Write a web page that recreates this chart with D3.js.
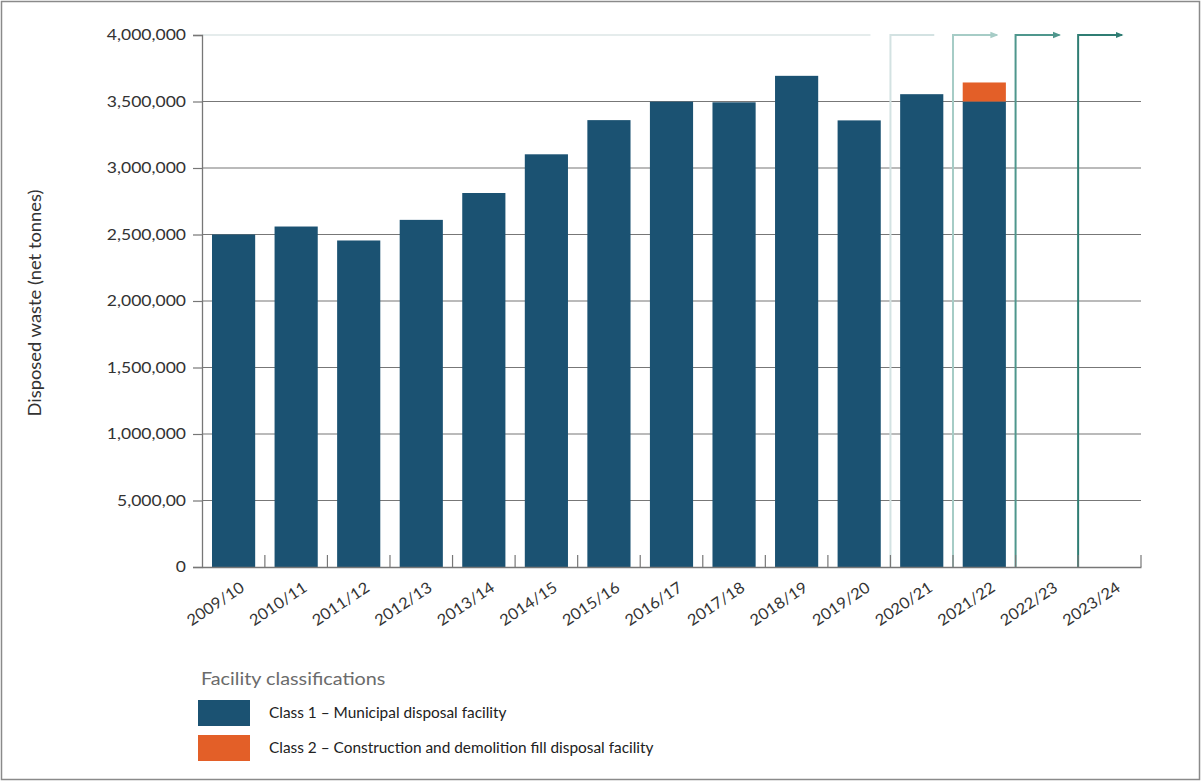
<!DOCTYPE html>
<html>
<head>
<meta charset="utf-8">
<script src="https://cdn.jsdelivr.net/npm/d3@7"></script>
<style>
  body { margin: 0; background: #fff; }
  svg { display: block; }
</style>
</head>
<body>
<div id="chart"></div>
<script>
// chart data
var years = ["2009/10", "2010/11", "2011/12", "2012/13", "2013/14", "2014/15", "2015/16",
  "2016/17", "2017/18", "2018/19", "2019/20", "2020/21", "2021/22", "2022/23", "2023/24"];
var class1 = [2500000, 2560000, 2455000, 2610000, 2812000, 3103000, 3360000,
  3499000, 3494000, 3693000, 3358000, 3555000, 3500000, null, null];
var class2 = [0, 0, 0, 0, 0, 0, 0, 0, 0, 0, 0, 0, 143000, null, null];
var yTicks = [0, 500000, 1000000, 1500000, 2000000, 2500000, 3000000, 3500000, 4000000];
var yTickLabels = ["0", "5,000,00", "1,000,000", "1,500,000", "2,000,000", "2,500,000",
  "3,000,000", "3,500,000", "4,000,000"];
var arrowYears = ["2020/21", "2021/22", "2022/23", "2023/24"];
var arrowColors = ["#d3e2e2", "#a6ccc6", "#4f978d", "#2f7d73"];
var legendLabels = ["Class 1 \u2013 Municipal disposal facility",
  "Class 2 \u2013 Construction and demolition fill disposal facility"];
var legendColors = ["#1b5272", "#e35f28"];

var w = 1201, h = 782;
var margin = {top: 35, left: 202, right: 60, bottom: 215};
var width = w - margin.left - margin.right;   // 939
var height = h - margin.top - margin.bottom;  // 532
var font = "Lato, 'Open Sans', sans-serif";

var svg = d3.select("#chart").append("svg")
  .attr("width", w)
  .attr("height", h);

// outer frame
svg.append("rect")
  .attr("x", 1.5).attr("y", 1.5)
  .attr("width", w - 3).attr("height", h - 4)
  .attr("fill", "none")
  .attr("stroke", "#8a8a8a")
  .attr("stroke-width", 1.5);

var g = svg.append("g")
  .attr("transform", "translate(" + margin.left + "," + margin.top + ")");

var x = d3.scaleBand()
  .domain(years)
  .range([0, width])
  .paddingInner(0.31)
  .paddingOuter(0.16);

var y = d3.scaleLinear()
  .domain([0, 4000000])
  .range([height, 0]);

var step = x.step();
var gap = step * x.paddingInner();
// left edge of each band's slot (boundary between categories)
function boundary(d) { return x(d) - gap / 2; }

// top line (faded)
g.append("line")
  .attr("x1", 0).attr("x2", boundary("2020/21") - 20)
  .attr("y1", y(4000000)).attr("y2", y(4000000))
  .attr("stroke", "#dde6e6")
  .attr("stroke-width", 1.5);

// gridlines + left axis
var yAxis = g.append("g")
  .call(d3.axisLeft(y).tickValues(yTicks).tickSize(9).tickFormat(function(d, i) { return yTickLabels[i]; }));
yAxis.select(".domain").attr("stroke", "#777").attr("stroke-width", 1.3);
yAxis.selectAll(".tick line").attr("stroke", "#777").attr("stroke-width", 1.2);
yAxis.selectAll(".tick text")
  .attr("x", 0)
  .attr("transform", "translate(-16,0) scale(1.17,1)")
  .attr("font-family", font)
  .attr("font-size", "15px")
  .attr("fill", "#333");

g.append("g")
  .selectAll("line")
  .data(yTicks.filter(function(d) { return d > 0 && d < 4000000; }))
  .enter().append("line")
    .attr("x1", 0).attr("x2", width)
    .attr("y1", function(d) { return y(d); })
    .attr("y2", function(d) { return y(d); })
    .attr("stroke", "#777")
    .attr("stroke-width", 1.2);

// arrows for later years
var defs = svg.append("defs");
arrowColors.forEach(function(c, i) {
  defs.append("marker")
    .attr("id", "arr" + i)
    .attr("viewBox", "0 0 10 10")
    .attr("refX", 8).attr("refY", 5)
    .attr("markerWidth", 4).attr("markerHeight", 4)
    .attr("orient", "auto")
    .append("path")
      .attr("d", "M0,1 L10,5 L0,9 Z")
      .attr("fill", c);
});
arrowYears.forEach(function(d, i) {
  var bx = boundary(d);
  g.append("path")
    .attr("d", "M" + bx + "," + height + " V" + y(4000000) + " H" + (bx + step * 0.7))
    .attr("fill", "none")
    .attr("stroke", arrowColors[i])
    .attr("stroke-width", 2)
    .attr("marker-end", i > 0 ? "url(#arr" + i + ")" : null);
});

// bars
var data = years.map(function(d, i) { return {year: d, c1: class1[i], c2: class2[i]}; })
  .filter(function(d) { return d.c1 != null; });

g.selectAll(".bar1")
  .data(data)
  .enter().append("rect")
    .attr("class", "bar1")
    .attr("x", function(d) { return x(d.year); })
    .attr("y", function(d) { return y(d.c1); })
    .attr("width", x.bandwidth())
    .attr("height", function(d) { return height - y(d.c1); })
    .attr("fill", legendColors[0]);

g.selectAll(".bar2")
  .data(data.filter(function(d) { return d.c2 > 0; }))
  .enter().append("rect")
    .attr("class", "bar2")
    .attr("x", function(d) { return x(d.year); })
    .attr("y", function(d) { return y(d.c1 + d.c2); })
    .attr("width", x.bandwidth())
    .attr("height", function(d) { return y(d.c1) - y(d.c1 + d.c2); })
    .attr("fill", legendColors[1]);

// x axis
var xAxis = g.append("g")
  .attr("transform", "translate(0," + height + ")")
  .call(d3.axisBottom(x).tickSize(0));
xAxis.select(".domain").attr("stroke", "#777").attr("stroke-width", 1.3);
xAxis.selectAll(".tick text")
  .attr("font-family", font)
  .attr("font-size", "15.5px")
  .attr("fill", "#333")
  .attr("text-anchor", "end")
  .attr("dy", 0)
  .attr("y", 0)
  .attr("transform", "translate(12,23) rotate(-34) scale(1.07,1)");

// inward ticks at category boundaries
g.append("g")
  .selectAll("line")
  .data(years.slice(1).concat(["end"]))
  .enter().append("line")
    .attr("x1", function(d) { return d === "end" ? width : boundary(d); })
    .attr("x2", function(d) { return d === "end" ? width : boundary(d); })
    .attr("y1", height).attr("y2", height - 12)
    .attr("stroke", "#777")
    .attr("stroke-width", 1.2);

// y axis title
svg.append("text")
  .attr("transform", "translate(41," + (margin.top + height / 2 + 2) + ") rotate(-90)")
  .attr("text-anchor", "middle")
  .attr("font-family", font)
  .attr("font-size", "18px")
  .attr("textLength", 227)
  .attr("lengthAdjust", "spacingAndGlyphs")
  .attr("fill", "#333")
  .text("Disposed waste (net tonnes)");

// legend
var legend = svg.append("g").attr("transform", "translate(198,0)");
legend.append("text")
  .attr("transform", "translate(3,685) scale(1.1,1)")
  .attr("font-family", font)
  .attr("font-size", "18px")
  .attr("fill", "#6b6b6b")
  .text("Facility classifications");
legendLabels.forEach(function(t, i) {
  legend.append("rect")
    .attr("x", 0).attr("y", 700 + i * 35)
    .attr("width", 52).attr("height", 26)
    .attr("fill", legendColors[i]);
  legend.append("text")
    .attr("x", 71).attr("y", 718 + i * 35)
    .attr("font-family", font)
    .attr("font-size", "15.4px")
    .attr("fill", "#222")
    .text(t);
});
</script>
</body>
</html>
